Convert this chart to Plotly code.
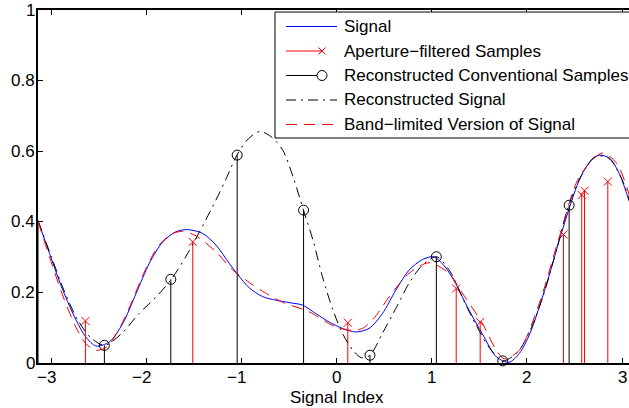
import math
import plotly.graph_objects as go

# ---- data -------------------------------------------------------------
# Original signal
sig_x = [-3.14, -3.02, -2.88, -2.74, -2.64, -2.53, -2.39, -2.25, -2.11, -1.97,
         -1.83, -1.69, -1.57, -1.41, -1.27, -1.13, -1.04, -0.92, -0.78, -0.64,
         -0.50, -0.36, -0.22, -0.08, 0.06, 0.20, 0.34, 0.48, 0.62, 0.76,
         0.90, 1.02, 1.14, 1.25, 1.39, 1.53, 1.68, 1.81, 1.92, 2.03,
         2.13, 2.24, 2.34, 2.45, 2.55, 2.66, 2.76, 2.87, 2.97, 3.06, 3.14]
sig_y = [0.402, 0.310, 0.206, 0.121, 0.074, 0.048, 0.060, 0.112, 0.197, 0.283,
         0.343, 0.372, 0.378, 0.367, 0.334, 0.282, 0.250, 0.213, 0.188, 0.178,
         0.171, 0.164, 0.140, 0.116, 0.098, 0.088, 0.098, 0.140, 0.206, 0.263,
         0.293, 0.301, 0.272, 0.225, 0.150, 0.083, 0.017, 0.002, 0.027, 0.083,
         0.159, 0.254, 0.348, 0.443, 0.518, 0.570, 0.589, 0.580, 0.537, 0.471, 0.402]

# Aperture-filtered samples
ap_x = [-2.643, -1.514, 0.116, 1.256, 1.508, 2.384, 2.576, 2.605, 2.850]
ap_y = [0.119, 0.343, 0.114, 0.211, 0.116, 0.364, 0.476, 0.488, 0.514]

# Reconstructed conventional samples
cs_x = [-3.1416, -2.4435, -1.7453, -1.0472, -0.3491, 0.3491, 1.0472, 1.7453, 2.4435]
cs_y = [0.404, 0.050, 0.237, 0.589, 0.433, 0.022, 0.301, 0.006, 0.447]

# Reconstructed signal
rec_x = [-3.14, -3.00, -2.86, -2.72, -2.58, -2.44, -2.26, -2.08, -1.90, -1.74,
         -1.59, -1.45, -1.27, -1.17, -1.05, -0.93, -0.81, -0.69, -0.57, -0.46,
         -0.35, -0.25, -0.15, -0.04, 0.06, 0.17, 0.26, 0.35, 0.48, 0.63,
         0.76, 0.90, 1.05, 1.19, 1.33, 1.47, 1.60, 1.745, 1.90, 2.03,
         2.17, 2.31, 2.44, 2.58, 2.72, 2.86, 3.00, 3.14]
rec_y = [0.402, 0.300, 0.200, 0.120, 0.070, 0.050, 0.084, 0.140, 0.187, 0.237,
         0.300, 0.368, 0.462, 0.518, 0.589, 0.635, 0.656, 0.641, 0.604, 0.528,
         0.433, 0.348, 0.244, 0.150, 0.084, 0.036, 0.015, 0.022, 0.084, 0.159,
         0.226, 0.277, 0.301, 0.260, 0.180, 0.105, 0.045, 0.006, 0.030, 0.090,
         0.190, 0.320, 0.447, 0.535, 0.585, 0.580, 0.520, 0.402]

# Band-limited version of the signal
bl_x = [-3.14, -3.02, -2.88, -2.74, -2.64, -2.53, -2.42, -2.30, -2.16, -2.02,
        -1.88, -1.74, -1.62, -1.48, -1.27, -1.10, -0.92, -0.76, -0.57, -0.29,
        -0.05, 0.13, 0.27, 0.40, 0.55, 0.76, 0.97, 1.18, 1.32, 1.53,
        1.67, 1.76, 1.92, 2.13, 2.34, 2.55, 2.79, 2.94, 3.06, 3.14]
bl_y = [0.400, 0.300, 0.190, 0.100, 0.055, 0.036, 0.045, 0.090, 0.170, 0.260,
        0.330, 0.365, 0.373, 0.360, 0.315, 0.265, 0.228, 0.200, 0.172, 0.145,
        0.107, 0.093, 0.098, 0.130, 0.187, 0.254, 0.284, 0.254, 0.198, 0.113,
        0.040, 0.012, 0.036, 0.169, 0.357, 0.527, 0.595, 0.567, 0.490, 0.400]

x_ticks = [-3, -2, -1, 0, 1, 2, 3]
x_tick_text = ["\u22123", "\u22122", "\u22121", "0", "1", "2", "3"]
y_ticks = [0, 0.2, 0.4, 0.6, 0.8, 1.0]
y_tick_text = ["0", "0.2", "0.4", "0.6", "0.8", "1"]
x_title = "Signal Index"

legend_names = ["Signal", "Aperture\u2212filtered Samples",
                "Reconstructed Conventional Samples", "Reconstructed Signal",
                "Band\u2212limited Version of Signal"]

# ---- layout geometry (pixels) -----------------------------------------
FIG_W, FIG_H = 629, 408
M_L, M_R, M_T, M_B = 38, 0, 10, 45
PLOT_W = FIG_W - M_L - M_R
PLOT_H = FIG_H - M_T - M_B
PX_PER_UNIT = 95.1
x_lo = -math.pi
x_hi = x_lo + PLOT_W / PX_PER_UNIT

FONT = "Liberation Sans, Arial, Helvetica, sans-serif"
FSIZE = 17
BLUE, RED, BLACK = "#0000ff", "#ff0000", "#000000"
DASH = "11px,7px"
DASHDOT = "10px,5px,2px,5px"


def stems(xs, ys):
    sx, sy = [], []
    for a, b in zip(xs, ys):
        sx += [a, a, None]
        sy += [0, b, None]
    return sx, sy


fig = go.Figure()

fig.add_trace(go.Scatter(x=sig_x, y=sig_y, mode="lines",
                         line=dict(color=BLUE, width=1, shape="spline", smoothing=0.8)))

ax_sx, ax_sy = stems(ap_x, ap_y)
fig.add_trace(go.Scatter(x=ax_sx, y=ax_sy, mode="lines", line=dict(color=RED, width=1)))
fig.add_trace(go.Scatter(x=ap_x, y=ap_y, mode="markers", cliponaxis=False,
                         marker=dict(symbol="x-thin", size=8, color=RED,
                                     line=dict(color=RED, width=1))))

cx_sx, cx_sy = stems(cs_x, cs_y)
fig.add_trace(go.Scatter(x=cx_sx, y=cx_sy, mode="lines", line=dict(color=BLACK, width=1)))

fig.add_trace(go.Scatter(x=rec_x, y=rec_y, mode="lines",
                         line=dict(color=BLACK, width=1, dash=DASHDOT,
                                   shape="spline", smoothing=0.8)))

fig.add_trace(go.Scatter(x=bl_x, y=bl_y, mode="lines",
                         line=dict(color=RED, width=1, dash=DASH,
                                   shape="spline", smoothing=0.8)))

fig.add_trace(go.Scatter(x=cs_x, y=cs_y, mode="markers", cliponaxis=False,
                         marker=dict(symbol="circle-open", size=10, color=BLACK,
                                     line=dict(color=BLACK, width=1))))


# ---- pixel -> paper helpers ---------------------------------------------
def px(p):
    return (p - M_L) / PLOT_W


def py(p):
    return (FIG_H - M_B - p) / PLOT_H


shapes = []
annotations = []
txt = dict(family=FONT, size=FSIZE, color=BLACK)

# tick labels: right-aligned on the y axis; digits centred under the x ticks
for v, t in zip(y_ticks, y_tick_text):
    annotations.append(dict(text=t, xref="paper", yref="y", x=px(36.5), y=v,
                            xanchor="right", yanchor="middle", showarrow=False, font=txt))
for v, t in zip(x_ticks, x_tick_text):
    annotations.append(dict(text=t, xref="x", yref="paper", x=v, y=py(377.5),
                            xanchor="center", yanchor="middle", showarrow=False, font=txt,
                            xshift=-5 if v < 0 else 0))
annotations.append(dict(text=x_title, xref="paper", yref="paper", x=px(337), y=py(397),
                        xanchor="center", yanchor="middle", showarrow=False, font=txt))

# legend box
shapes.append(dict(type="rect", xref="paper", yref="paper",
                   x0=px(275), x1=px(650), y0=py(138), y1=py(12),
                   fillcolor="white", line=dict(color=BLACK, width=1), layer="above"))

row_y = [26.5, 51, 75.5, 100, 124.5]
sample_styles = [
    dict(color=BLUE, dash="solid", end=337),
    dict(color=RED, dash="solid", end=322),
    dict(color=BLACK, dash="solid", end=317),
    dict(color=BLACK, dash=DASHDOT, end=337),
    dict(color=RED, dash=DASH, end=337),
]
for name, yy, st in zip(legend_names, row_y, sample_styles):
    shapes.append(dict(type="line", xref="paper", yref="paper",
                       x0=px(286), x1=px(st["end"]), y0=py(yy), y1=py(yy),
                       line=dict(color=st["color"], width=1, dash=st["dash"]), layer="above"))
    annotations.append(dict(text=name, xref="paper", yref="paper",
                            x=px(342), y=py(yy), xanchor="left", yanchor="middle",
                            showarrow=False, font=txt))

# marker glyphs in the legend samples
mx, my = 322, row_y[1]
for d in (1, -1):
    shapes.append(dict(type="line", xref="paper", yref="paper",
                       x0=px(mx - 3.5), x1=px(mx + 3.5), y0=py(my - 3.5 * d), y1=py(my + 3.5 * d),
                       line=dict(color=RED, width=1), layer="above"))
cx, cy = 322, row_y[2]
shapes.append(dict(type="circle", xref="paper", yref="paper",
                   x0=px(cx - 5), x1=px(cx + 5), y0=py(cy + 5), y1=py(cy - 5),
                   line=dict(color=BLACK, width=1), layer="above"))

fig.update_layout(
    width=FIG_W, height=FIG_H,
    margin=dict(l=M_L, r=M_R, t=M_T, b=M_B, pad=0),
    paper_bgcolor="white", plot_bgcolor="white",
    showlegend=False,
    font=txt,
    shapes=shapes, annotations=annotations,
    xaxis=dict(range=[x_lo, x_hi], tickvals=x_ticks, ticks="inside", ticklen=5,
               tickcolor=BLACK, showline=True, linecolor=BLACK, linewidth=1.5,
               mirror="ticks", showgrid=False, zeroline=False, automargin=False,
               showticklabels=False),
    yaxis=dict(range=[0, 1], tickvals=y_ticks, ticks="inside",
               ticklen=5, tickcolor=BLACK, showline=True, linecolor=BLACK, linewidth=1.5,
               mirror=False, showgrid=False, zeroline=False, automargin=False,
               showticklabels=False),
)

fig.write_html("out.html")
